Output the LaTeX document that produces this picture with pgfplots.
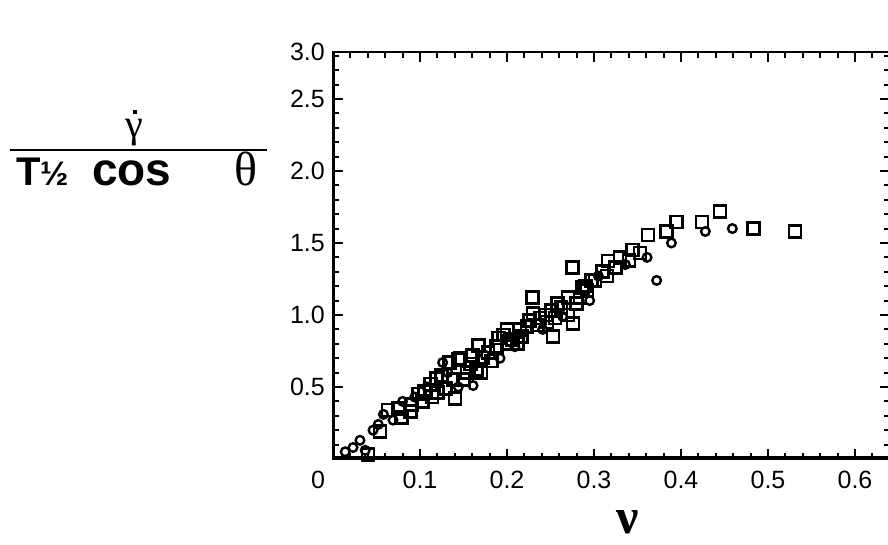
\documentclass[border=0pt]{standalone}
\usepackage{fontspec}
\setmainfont{Liberation Sans}
\newfontfamily\grk{Liberation Serif}
\usepackage{pgfplots}
\pgfplotsset{compat=1.18}
\begin{document}
\begin{tikzpicture}[x=1pt,y=1pt]
\useasboundingbox (0,0) rectangle (888,544);
\begin{axis}[
  at={(333pt,85pt)}, anchor=origin,
  scale only axis, width=556.8pt, height=407pt,
  xmin=0, xmax=0.64, ymin=0, ymax=2.826,
  axis line style={line width=2pt},
  tick align=inside,
  xtick={0.1,0.2,0.3,0.4,0.5,0.6},
  xticklabels={0.1,0.2,0.3,0.4,0.5,0.6},
  ytick={0.5,1.0,1.5,2.0,2.5},
  yticklabels={0.5,1.0,1.5,2.0,2.5},
  minor xtick={0.02,0.04,...,0.63},
  minor ytick={0.1,0.2,...,2.81},
  major tick length=10pt, minor tick length=6pt,
  every tick/.style={black, line width=2pt},
  tick label style={font=\fontsize{25}{27}\selectfont},
  xticklabel style={inner sep=0pt, yshift=-12pt},
  yticklabel style={inner sep=0pt, xshift=-8pt},
  extra x ticks={0}, extra x tick labels={0},
  extra x tick style={major tick length=0pt, xticklabel style={xshift=-15pt}},
  extra y ticks={2.826}, extra y tick labels={3.0},
  extra y tick style={major tick length=0pt},
]
\addplot[only marks, mark=square, mark size=6pt, mark options={line width=2.6pt, black}] coordinates {
(0.040,0.03) (0.054,0.19) (0.063,0.34) (0.075,0.35) (0.079,0.29) (0.089,0.33)
(0.098,0.45) (0.103,0.40) (0.112,0.52) (0.114,0.43) (0.119,0.56) (0.129,0.49)
(0.134,0.67) (0.140,0.42) (0.144,0.69) (0.154,0.60) (0.158,0.66) (0.165,0.62)
(0.167,0.79) (0.172,0.70) (0.146,0.70) (0.178,0.74) (0.188,0.78) (0.196,0.86)
(0.200,0.90) (0.206,0.83) (0.212,0.80) (0.217,0.85) (0.223,0.92) (0.226,0.96)
(0.229,1.12) (0.230,1.01) (0.238,0.98) (0.246,0.95) (0.251,1.03) (0.255,0.98)
(0.253,0.85) (0.262,1.05) (0.270,1.12) (0.276,0.94) (0.275,1.33) (0.280,1.08)
(0.284,1.12) (0.287,1.19) (0.292,1.17) (0.297,1.24) (0.301,1.24) (0.315,1.27)
(0.316,1.375) (0.344,1.45) (0.353,1.43) (0.362,1.556) (0.383,1.58) (0.395,1.645)
(0.424,1.645) (0.445,1.72) (0.483,1.60) (0.531,1.58)
(0.090,0.38) (0.105,0.47) (0.120,0.46) (0.125,0.58) (0.138,0.55) (0.150,0.55)
(0.160,0.72) (0.170,0.60) (0.182,0.68) (0.190,0.84) (0.200,0.80) (0.215,0.90)
(0.235,0.93) (0.245,1.00) (0.258,1.08) (0.270,1.00) (0.290,1.20) (0.310,1.30)
(0.325,1.33) (0.330,1.40) (0.340,1.38)
};
\addplot[only marks, mark=o, mark size=4.3pt, mark options={line width=2.4pt, black}] coordinates {
(0.014,0.05) (0.023,0.08) (0.037,0.06) (0.031,0.13) (0.046,0.20) (0.052,0.24)
(0.058,0.31) (0.069,0.27) (0.080,0.40) (0.094,0.43) (0.108,0.50) (0.126,0.67)
(0.132,0.60) (0.144,0.50) (0.161,0.51) (0.175,0.72) (0.192,0.70) (0.209,0.78)
(0.241,0.90) (0.264,0.99) (0.295,1.10) (0.305,1.27) (0.336,1.35) (0.361,1.40)
(0.372,1.24) (0.389,1.50) (0.428,1.58) (0.459,1.60)
};
\draw[line width=7pt] (axis cs:0,0) -- (axis cs:0.64,0);
\draw[line width=4pt] (axis cs:0,0) -- (axis cs:0,2.826);
\end{axis}
% y label as a fraction
\draw[line width=1.6pt] (10,394) -- (267,394);
\node[inner sep=0pt, anchor=south, font=\grk\fontsize{40}{44}\selectfont] at (134,398) {γ};
\node[inner sep=0pt, anchor=center] at (135,432) {\rule{4pt}{4pt}};
\node[inner sep=0pt, anchor=base west, font=\bfseries\fontsize{40}{44}\selectfont] at (16,358) {T};
\node[inner sep=0pt, anchor=base west, font=\bfseries\fontsize{34}{38}\selectfont] at (40,358) {½};
\node[inner sep=0pt, anchor=base west, font=\bfseries\fontsize{46}{50}\selectfont] at (92,358) {cos};
\node[inner sep=0pt, anchor=base west, font=\grk\fontsize{48}{52}\selectfont] at (234,358) {θ};
% x label
\node[inner sep=0pt, anchor=base, font=\grk\bfseries\fontsize{50}{54}\selectfont] at (628,11) {ν};
\end{tikzpicture}
\end{document}
